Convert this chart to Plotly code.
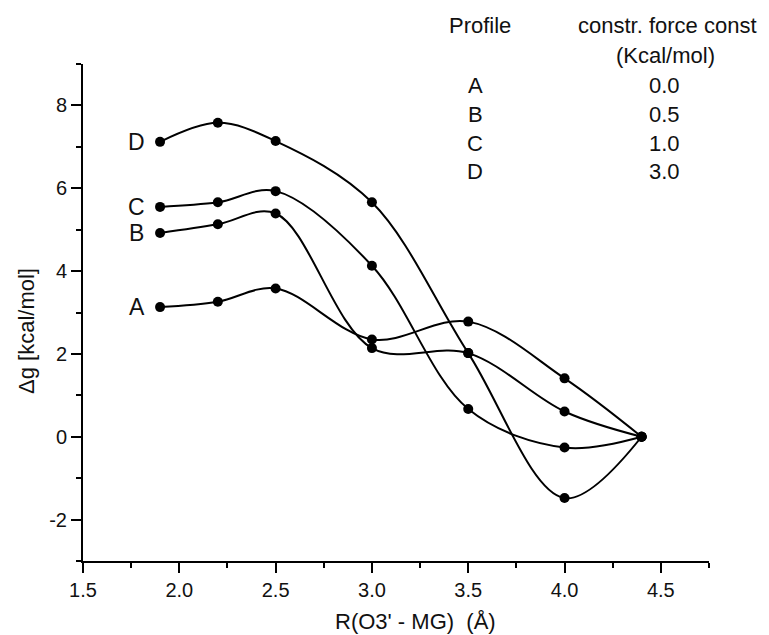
import plotly.graph_objects as go

# Free-energy profiles along the O3'-Mg distance
r_values = [1.9, 2.2, 2.5, 3.0, 3.5, 4.0, 4.4]
profile_a = [3.13, 3.26, 3.58, 2.35, 2.78, 1.41, 0.0]
profile_b = [4.92, 5.13, 5.39, 2.14, 2.02, 0.61, 0.0]
profile_c = [5.55, 5.66, 5.93, 4.13, 0.67, -0.26, 0.0]
profile_d = [7.12, 7.58, 7.14, 5.66, 2.02, -1.48, 0.0]

profile_names = ["A", "B", "C", "D"]
force_consts = ["0.0", "0.5", "1.0", "3.0"]

x_tickvals = [1.5, 2.0, 2.5, 3.0, 3.5, 4.0, 4.5]
x_ticktext = ["1.5", "2.0", "2.5", "3.0", "3.5", "4.0", "4.5"]
y_tickvals = [-2, 0, 2, 4, 6, 8]
y_ticktext = ["-2", "0", "2", "4", "6", "8"]

W, H = 769, 635
ML, MR, MT, MB = 83, 60, 64, 74
PW, PH = W - ML - MR, H - MT - MB

FONT = "Arial, Liberation Sans, sans-serif"
INK = "#111111"


def px(xp):
    return (xp - ML) / PW


def py(yp):
    return (H - MB - yp) / PH


fig = go.Figure()

series = [profile_a, profile_b, profile_c, profile_d]
for name, vals in zip(profile_names, series):
    fig.add_trace(go.Scatter(
        x=r_values, y=vals, mode="lines+markers", name=name,
        line=dict(color="black", width=2, shape="spline", smoothing=1.0),
        marker=dict(color="black", size=10),
        showlegend=False,
    ))

annotations = []

# curve labels beside the first point of each profile
for name, vals in zip(profile_names, series):
    annotations.append(dict(
        x=1.78, y=vals[0], xref="x", yref="y", text=name, showarrow=False,
        font=dict(family=FONT, size=23, color=INK), xanchor="center", yanchor="middle",
    ))

# table of constraint force constants
annotations.append(dict(x=px(480), y=py(26), xref="paper", yref="paper", text="Profile",
                        showarrow=False, font=dict(family=FONT, size=22, color=INK),
                        xanchor="center", yanchor="middle"))
annotations.append(dict(x=px(667), y=py(26), xref="paper", yref="paper", text="constr. force const",
                        showarrow=False, font=dict(family=FONT, size=22, color=INK),
                        xanchor="center", yanchor="middle"))
annotations.append(dict(x=px(665), y=py(56), xref="paper", yref="paper", text="(Kcal/mol)",
                        showarrow=False, font=dict(family=FONT, size=22, color=INK),
                        xanchor="center", yanchor="middle"))
row_y = [86, 114.5, 143, 171.5]
for name, fc, yy in zip(profile_names, force_consts, row_y):
    annotations.append(dict(x=px(475), y=py(yy), xref="paper", yref="paper", text=name,
                            showarrow=False, font=dict(family=FONT, size=22, color=INK),
                            xanchor="center", yanchor="middle"))
    annotations.append(dict(x=px(664), y=py(yy), xref="paper", yref="paper", text=fc,
                            showarrow=False, font=dict(family=FONT, size=22, color=INK),
                            xanchor="center", yanchor="middle"))

# axis titles
annotations.append(dict(x=px(415), y=py(621), xref="paper", yref="paper",
                        text="R(O3' - MG)  (Å)", showarrow=False,
                        font=dict(family=FONT, size=22, color=INK),
                        xanchor="center", yanchor="middle"))
annotations.append(dict(x=px(26), y=py(331), xref="paper", yref="paper",
                        text="Δg [kcal/mol]", showarrow=False, textangle=-90,
                        font=dict(family=FONT, size=22, color=INK),
                        xanchor="center", yanchor="middle"))

axis_common = dict(
    showline=True, linecolor="black", linewidth=2, mirror=False,
    ticks="outside", ticklen=10, tickwidth=2, tickcolor="black",
    showgrid=False, zeroline=False, tickmode="array",
    tickfont=dict(family=FONT, size=20, color=INK),
)

fig.update_layout(
    width=W, height=H,
    margin=dict(l=ML, r=MR, t=MT, b=MB),
    paper_bgcolor="white", plot_bgcolor="white",
    annotations=annotations,
    xaxis=dict(range=[1.5, 4.75], tickvals=x_tickvals, ticktext=x_ticktext,
               minor=dict(dtick=0.25, tick0=1.5, ticks="outside", ticklen=5, tickwidth=2,
                          tickcolor="black"),
               **axis_common),
    yaxis=dict(range=[-3, 9], tickvals=y_tickvals, ticktext=y_ticktext,
               minor=dict(dtick=1, tick0=0, ticks="outside", ticklen=5, tickwidth=2,
                          tickcolor="black"),
               **axis_common),
)

fig.write_html("out.html")
